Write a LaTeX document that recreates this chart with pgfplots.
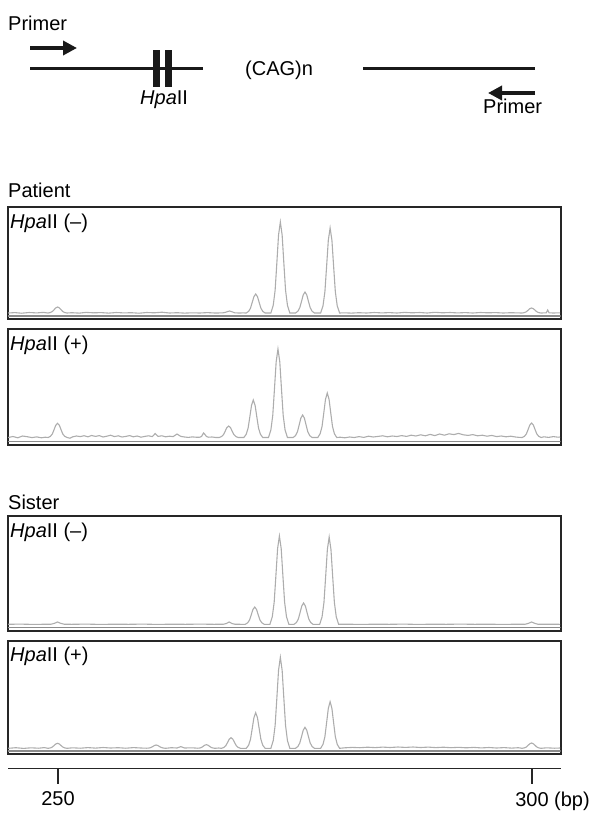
\documentclass[border=0pt]{standalone}
\usepackage{fontspec}
\setmainfont{Liberation Sans}
\usepackage{pgfplots}
\pgfplotsset{compat=1.18}
\usetikzlibrary{arrows.meta}
\pgfplotsset{
  panel/.style={scale only axis, width=553pt, anchor=south west,
    xmin=244.73, xmax=303.06, ymin=0, xtick=\empty, ytick=\empty,
    axis line style={line width=2pt, black!85}},
  trace/.style={black!32, line width=1.1pt, mark=none},
}
\begin{document}
\fontsize{20}{24}\selectfont
\begin{tikzpicture}[x=1pt,y=1pt,font=\fontsize{20}{24}\selectfont]
\useasboundingbox (0,0) rectangle (605,-814);
\coordinate (scaleorigin) at (8pt,-768pt);
% ---- schematic ----
\node[anchor=base west, inner sep=0] at (8,-30) {Primer};
\draw[line width=4pt, black!90, -{Triangle[length=14pt, width=14pt]}] (30,-48) -- (77,-48);
\draw[line width=3pt, black!90] (30,-68) -- (203,-68);
\fill[black!90] (153,-50) rectangle (160,-87);
\fill[black!90] (165,-50) rectangle (172,-87);
\node[anchor=base west, inner sep=0] at (140,-104) {\textit{Hpa}II};
\node[anchor=west, inner sep=0] at (245,-70) {(CAG)n};
\draw[line width=3pt, black!90] (363,-68) -- (535,-68);
\draw[line width=4pt, black!90, -{Triangle[length=14pt, width=14pt]}] (535,-93) -- (488,-93);
\node[anchor=base west, inner sep=0] at (483,-113) {Primer};
% ---- titles ----
\node[anchor=base west, inner sep=0] at (8,-197) {Patient};
\node[anchor=base west, inner sep=0] at (8,-509) {Sister};
% ---- Panel 1 ----
\begin{axis}[panel, at={(8,-319)}, height=112pt, ymax=112]
\draw[black!45, line width=1.5pt] (axis cs:244.73,3) -- (axis cs:303.06,3);
\addplot[trace] coordinates {(244.8,6)(245.5,6.4)(246.2,5.8)(247,6.5)(247.8,6.1)(248.5,6.6)(249,6)(249.25,6.5)(249.45,7.5)(249.625,9.2)(249.81,11.1)(250,12)(250.19,11.1)(250.375,9.2)(250.55,7.5)(250.75,6.5)(251,6)(251.5,6.3)(252.3,5.9)(253,6.6)(253.8,6.2)(254.6,6.4)(255.4,5.9)(256.2,6.5)(257,6.1)(257.8,6.3)(258.6,5.8)(259.4,6.5)(260.2,6.2)(261,6.8)(261.8,6)(262.6,6.3)(263.4,5.9)(264.2,6.2)(265,6)(265.8,6.4)(266.6,6)(267.35,6.1)(267.6,6.4)(267.9,7.3)(268.15,8)(268.4,7.2)(268.7,6.2)(269.1,6)(269.6,6.1)(269.9,6)(270.15,7.6)(270.35,10.8)(270.525,16.3)(270.71,22.3)(270.9,25)(271.09,22.3)(271.275,16.3)(271.45,10.8)(271.65,7.6)(271.9,6)(272.2,6)(272.5,6)(272.75,13.7)(272.95,28.8)(273.125,55.1)(273.31,84)(273.5,97)(273.69,84)(273.875,55.1)(274.05,28.8)(274.25,13.7)(274.5,6)(274.8,6)(275.1,6)(275.35,7.8)(275.55,11.3)(275.725,17.3)(275.91,24)(276.1,27)(276.29,24)(276.475,17.3)(276.65,11.3)(276.85,7.8)(277.1,6)(277.4,6)(277.75,6)(278,13.2)(278.2,27.3)(278.375,51.9)(278.56,78.8)(278.75,91)(278.94,78.8)(279.125,51.9)(279.3,27.3)(279.5,13.2)(279.75,6)(280.2,6.2)(281,5.9)(281.8,6.3)(282.6,6)(283.4,6.5)(284.2,6.1)(285,6.4)(285.8,6)(286.6,6.6)(287.4,6.2)(288.2,6.5)(289,6)(289.8,6.7)(290.6,6.2)(291.4,6.5)(292.2,6.1)(293,6.4)(293.8,6)(294.6,6.5)(295.4,6.2)(296.2,6.4)(297,6)(297.8,6.3)(298.6,6.1)(299,6)(299.25,6.4)(299.45,7.3)(299.625,8.7)(299.81,10.3)(300,11)(300.19,10.3)(300.375,8.7)(300.55,7.3)(300.75,6.4)(301,6)(301.3,6.1)(301.55,6.2)(301.7,9)(301.85,6.2)(302.3,6)(303,6.2)};
\end{axis}
\node[anchor=base west, inner sep=0] at (10,-228) {\textit{Hpa}II (–)};
% ---- Panel 2 ----
\begin{axis}[panel, at={(8,-445)}, height=116pt, ymax=116]
\draw[black!45, line width=1.5pt] (axis cs:244.73,3.5) -- (axis cs:303.06,3.5);
\addplot[trace] coordinates {(244.8,7.5)(245.3,8.5)(245.8,7.2)(246.3,9)(246.8,8.3)(247.3,7.4)(247.8,8.1)(248.3,7.2)(248.7,7.8)(249,7.5)(249.25,8.7)(249.45,11.05)(249.625,15.2)(249.81,19.7)(250,21.7)(250.19,19.7)(250.375,15.2)(250.55,11.05)(250.75,8.7)(251,7.5)(251.3,6.8)(251.6,8.2)(252,9)(252.4,8.4)(252.8,9.3)(253.2,8.2)(253.6,9.5)(254,8.6)(254.4,9.4)(254.8,8)(255.2,8.8)(255.6,9.8)(256,8.4)(256.4,9.2)(256.8,8)(257.2,8.6)(257.6,9.4)(258,8.2)(258.4,9)(258.8,7.8)(259.2,8.6)(259.6,9.2)(260,8.4)(260.3,11.5)(260.6,8.6)(261,9.2)(261.4,8.2)(261.8,8.8)(262.2,8.4)(262.6,11)(263,8.6)(263.4,8)(263.8,7.6)(264.2,8.1)(264.6,7.8)(264.9,7.7)(265.05,7.9)(265.2,8.6)(265.3,10.5)(265.4,12)(265.55,10.5)(265.7,8.6)(265.9,7.8)(266.3,8)(266.7,7.5)(267.05,7.5)(267.3,8.5)(267.5,10.4)(267.675,13.7)(267.86,17.4)(268.05,19)(268.24,17.4)(268.425,13.7)(268.6,10.4)(268.8,8.5)(269.05,7.5)(269.35,7.5)(269.65,7.5)(269.9,10.7)(270.1,16.9)(270.275,27.75)(270.46,39.6)(270.65,45)(270.84,39.6)(271.025,27.75)(271.2,16.9)(271.4,10.7)(271.65,7.5)(271.95,7.5)(272.25,7.5)(272.5,15)(272.7,29.6)(272.875,55.3)(273.06,83.3)(273.25,96)(273.44,83.3)(273.625,55.3)(273.8,29.6)(274,15)(274.25,7.5)(274.55,7.5)(274.85,7.5)(275.1,9.4)(275.3,13.1)(275.475,19.7)(275.66,26.8)(275.85,30)(276.04,26.8)(276.225,19.7)(276.4,13.1)(276.6,9.4)(276.85,7.5)(277.15,7.5)(277.45,7.5)(277.7,11.3)(277.9,18.6)(278.075,31.5)(278.26,45.6)(278.45,52)(278.64,45.6)(278.825,31.5)(279,18.6)(279.2,11.3)(279.45,7.5)(279.8,7.8)(280.3,7.2)(280.8,8)(281.3,7.5)(281.8,8.4)(282.3,7.6)(282.8,8.8)(283.3,8)(283.8,8.6)(284.3,9.2)(284.8,8.2)(285.3,9)(285.8,8.5)(286.3,9.4)(286.8,8.6)(287.3,9.8)(287.8,9)(288.3,10.2)(288.8,9.2)(289.3,10.6)(289.8,9.4)(290.3,11)(290.8,9.8)(291.3,11.2)(291.8,10.4)(292.3,11.6)(292.8,10.2)(293.3,9.6)(293.8,10.4)(294.3,9.2)(294.8,9.8)(295.3,8.8)(295.8,9.6)(296.3,8.4)(296.8,9)(297.3,8.2)(297.8,8.8)(298.3,8)(298.7,7.6)(299,7.5)(299.25,8.7)(299.45,11.1)(299.625,15.3)(299.81,19.9)(300,22)(300.19,19.9)(300.375,15.3)(300.55,11.1)(300.75,8.7)(301,7.5)(301.3,8.2)(301.8,7.6)(302.3,8.4)(302.8,7.8)(303,8)};
\end{axis}
\node[anchor=base west, inner sep=0] at (10,-350) {\textit{Hpa}II (+)};
% ---- Panel 3 ----
\begin{axis}[panel, at={(8,-631)}, height=115pt, ymax=115]
\draw[black!45, line width=1.5pt] (axis cs:244.73,3.5) -- (axis cs:303.06,3.5);
\addplot[trace] coordinates {(244.8,6.7)(246,6.9)(247.5,6.6)(249,6.8)(249.3,6.8)(249.65,7.6)(250,9)(250.35,7.6)(250.7,6.8)(251.5,6.7)(253,6.9)(254.5,6.6)(256,6.8)(257.5,6.7)(259,6.9)(260.5,6.6)(262,6.8)(263.5,6.7)(265,6.9)(266.5,6.7)(267.5,6.8)(267.8,7.5)(268.1,9)(268.4,7.5)(268.7,6.8)(269.3,6.7)(269.8,6.7)(270.05,8.2)(270.25,11)(270.425,16)(270.61,21.5)(270.8,24)(270.99,21.5)(271.175,16)(271.35,11)(271.55,8.2)(271.8,6.7)(272.1,6.7)(272.4,6.7)(272.65,14.2)(272.85,28.8)(273.025,54.4)(273.21,82.4)(273.4,95)(273.59,82.4)(273.775,54.4)(273.95,28.8)(274.15,14.2)(274.4,6.7)(274.7,6.7)(274.95,6.7)(275.2,8.5)(275.4,12)(275.575,18.2)(275.76,25)(275.95,28)(276.14,25)(276.325,18.2)(276.5,12)(276.7,8.5)(276.95,6.7)(277.3,6.7)(277.65,6.7)(277.9,14.1)(278.1,28.5)(278.275,53.8)(278.46,81.5)(278.65,94)(278.84,81.5)(279.025,53.8)(279.2,28.5)(279.4,14.1)(279.65,6.7)(280.5,6.8)(282,6.6)(283.5,6.8)(285,6.7)(286.5,6.9)(288,6.6)(289.5,6.8)(291,6.7)(292.5,6.9)(294,6.7)(295.5,6.8)(297,6.6)(298.5,6.8)(299.3,6.7)(299.65,7.6)(300,9)(300.35,7.6)(300.7,6.7)(301.5,6.8)(303,6.7)};
\end{axis}
\node[anchor=base west, inner sep=0] at (10,-537) {\textit{Hpa}II (–)};
% ---- Panel 4 ----
\begin{axis}[panel, at={(8,-754)}, height=113pt, ymax=113]
\draw[black!45, line width=1.5pt] (axis cs:244.73,3) -- (axis cs:303.06,3);
\addplot[trace] coordinates {(244.8,5.7)(245.6,6.3)(246.4,5.6)(247.2,6.2)(248,5.8)(248.6,6.4)(249,5.7)(249.25,6.1)(249.45,7)(249.625,8.4)(249.81,10)(250,10.7)(250.19,10)(250.375,8.4)(250.55,7)(250.75,6.1)(251,5.7)(251.6,6.2)(252.4,5.8)(253.2,6.4)(254,5.9)(254.8,6.5)(255.6,6)(256.4,6.3)(257.2,5.8)(258,6.4)(258.8,6)(259.4,5.8)(259.65,6)(259.85,6.5)(260.05,7.5)(260.22,8.5)(260.4,9)(260.58,8.5)(260.75,7.5)(260.95,6.5)(261.15,6)(261.4,5.7)(262,6.3)(262.6,6)(263,7.4)(263.4,6)(264.2,6.2)(264.8,5.8)(265,6)(265.2,6.6)(265.35,7.6)(265.52,8.8)(265.7,9.3)(265.88,8.8)(266.05,7.6)(266.2,6.6)(266.4,6)(266.6,5.7)(267,6)(267.3,5.7)(267.55,6.6)(267.75,8.35)(267.925,11.4)(268.11,14.8)(268.3,16.3)(268.49,14.8)(268.675,11.4)(268.85,8.35)(269.05,6.6)(269.3,5.7)(269.6,5.7)(269.9,5.7)(270.15,8.7)(270.35,14.6)(270.525,24.9)(270.71,36.2)(270.9,41.3)(271.09,36.2)(271.275,24.9)(271.45,14.6)(271.65,8.7)(271.9,5.7)(272.2,5.7)(272.5,5.7)(272.75,13.4)(272.95,28.5)(273.125,54.8)(273.31,83.7)(273.5,96.7)(273.69,83.7)(273.875,54.8)(274.05,28.5)(274.25,13.4)(274.5,5.7)(274.8,5.7)(275.1,5.7)(275.35,7.5)(275.55,11)(275.725,17)(275.91,23.7)(276.1,26.7)(276.29,23.7)(276.475,17)(276.65,11)(276.85,7.5)(277.1,5.7)(277.4,5.7)(277.75,5.7)(278,9.7)(278.2,17.35)(278.375,30.9)(278.56,45.6)(278.75,52.3)(278.94,45.6)(279.125,30.9)(279.3,17.35)(279.5,9.7)(279.75,5.7)(280.3,6.2)(281.1,6.6)(281.9,6.3)(282.7,6.8)(283.5,6.4)(284.3,6.9)(285.1,6.5)(285.9,7)(286.7,6.6)(287.5,7)(288.3,6.5)(289.1,6.9)(289.9,6.4)(290.7,6.8)(291.5,6.3)(292.3,6.7)(293.1,6.2)(293.9,6.6)(294.7,6.1)(295.5,6.5)(296.3,6)(297.1,6.4)(297.9,5.9)(298.6,6.3)(299,5.7)(299.25,6.15)(299.45,7)(299.625,8.6)(299.81,10.2)(300,11)(300.19,10.2)(300.375,8.6)(300.55,7)(300.75,6.15)(301,5.7)(301.6,6.2)(302.4,5.8)(303,6)};
\end{axis}
\node[anchor=base west, inner sep=0] at (10,-661) {\textit{Hpa}II (+)};
% ---- bottom scale ----
\begin{axis}[scale only axis, width=553pt, height=20pt, at={(scaleorigin)}, anchor=north west,
  xmin=244.73, xmax=303.06, ymin=0, ymax=20,
  axis line style={draw=none}, ytick=\empty,
  xtick={250,300}, xticklabels={250,{300\rlap{ (bp)}}},
  xtick pos=top, tick align=inside, major tick length=16pt,
  xticklabel pos=top,
  xtick style={line width=1.3pt, black!85},
  xticklabel style={font=\fontsize{20}{24}\selectfont, anchor=north, yshift=-17pt}]
\draw[line width=2pt, black!85] (rel axis cs:0,1) -- (rel axis cs:1,1);
\addplot[draw=none] coordinates {(250,10)(300,10)};
\end{axis}
\end{tikzpicture}
\end{document}
